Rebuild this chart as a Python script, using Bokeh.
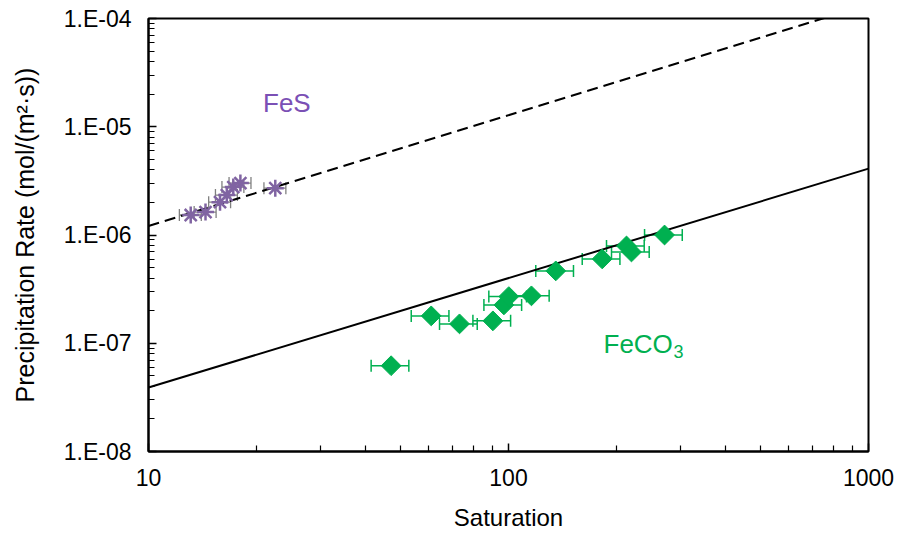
import numpy as np
from bokeh.plotting import figure
from bokeh.models import (ColumnDataSource, Whisker, TeeHead, FixedTicker,
                          CustomJSTickFormatter, Range1d)
from bokeh.core.properties import value
from bokeh.embed import file_html
from bokeh.resources import INLINE

# ---------------- data ----------------
fes_sat = [13.1, 14.4, 15.8, 16.5, 17.2, 18.0, 22.5]
fes_rate = [1.53e-6, 1.63e-6, 2.01e-6, 2.34e-6, 2.77e-6, 3.02e-6, 2.71e-6]
fes_err = 0.07

feco3_sat = [47.2, 61.0, 73.1, 90.5, 97.1, 100.2, 115.8, 135.3, 182.1, 212.7, 219.6, 271.3]
feco3_rate = [6.2e-8, 1.79e-7, 1.51e-7, 1.61e-7, 2.26e-7, 2.70e-7, 2.74e-7,
              4.66e-7, 6.01e-7, 7.92e-7, 6.97e-7, 1.0e-6]
feco3_err = 0.12

fit_sat = [10, 1000]
fes_fit = [1.21e-6, 1.35e-4]
feco3_fit = [3.9e-8, 4.1e-6]

x_ticks = [10, 100, 1000]
y_ticks = [1e-8, 1e-7, 1e-6, 1e-5, 1e-4]

FONT = "Liberation Sans"
PURPLE = "#8064A2"
PURPLE_TXT = "#7B50B5"
GREEN = "#00B050"

p = figure(width=899, height=533, x_axis_type="log", y_axis_type="log",
           x_range=Range1d(10, 1000), y_range=Range1d(1e-8, 1e-4),
           output_backend="svg", toolbar_location=None,
           min_border_left=148, min_border_right=31,
           min_border_top=18, min_border_bottom=81)
p.background_fill_color = "white"
p.border_fill_color = "white"
p.outline_line_color = "black"
p.outline_line_width = 2
p.grid.visible = False

x_minor = [m * d for d in [10, 100] for m in range(2, 10)]
y_minor = [m * d for d in [1e-8, 1e-7, 1e-6, 1e-5] for m in range(2, 10)]
p.xaxis.ticker = FixedTicker(ticks=x_ticks, minor_ticks=x_minor)
p.yaxis.ticker = FixedTicker(ticks=y_ticks, minor_ticks=y_minor)
p.xaxis.formatter = CustomJSTickFormatter(code="return String(Math.round(tick));")
p.yaxis.formatter = CustomJSTickFormatter(
    code="const e = Math.round(Math.log10(tick)); return '1.E-' + String(-e).padStart(2, '0');")

for ax in [p.xaxis[0], p.yaxis[0]]:
    ax.axis_line_color = "black"
    ax.axis_line_width = 2
    ax.major_tick_in = 8
    ax.major_tick_out = 0
    ax.minor_tick_in = 6
    ax.minor_tick_out = 0
    ax.major_tick_line_color = "black"
    ax.minor_tick_line_color = "black"
    ax.major_tick_line_width = 1.5
    ax.minor_tick_line_width = 1.2
    ax.major_label_text_font = FONT
    ax.major_label_text_font_size = "23px"
    ax.major_label_text_color = "black"
    ax.axis_label_text_font = FONT
    ax.axis_label_text_font_style = "normal"
    ax.axis_label_text_color = "black"

p.xaxis.axis_label_text_font_size = "24px"
p.yaxis.axis_label_text_font_size = "25px"
p.xaxis.axis_label = "Saturation"
p.yaxis.axis_label = "Precipitation Rate (mol/(m²·s))"
p.xaxis.major_label_standoff = 17
p.xaxis.axis_label_standoff = 15
p.yaxis.major_label_standoff = 17
p.yaxis.axis_label_standoff = 22

# fit lines
p.line(fit_sat, fes_fit, line_color="black", line_width=2, line_dash="11 6")
p.line(fit_sat, feco3_fit, line_color="black", line_width=2)

# error bars
fes_src = ColumnDataSource(dict(
    x=fes_sat, y=fes_rate,
    lo=[s * (1 - fes_err) for s in fes_sat],
    hi=[s * (1 + fes_err) for s in fes_sat]))
feco3_src = ColumnDataSource(dict(
    x=feco3_sat, y=feco3_rate,
    lo=[s * (1 - feco3_err) for s in feco3_sat],
    hi=[s * (1 + feco3_err) for s in feco3_sat]))

p.add_layout(Whisker(source=fes_src, base="y", lower="lo", upper="hi", dimension="width",
                     line_color="#808080", line_width=1.3,
                     upper_head=TeeHead(size=12, line_color="#808080", line_width=1.3),
                     lower_head=TeeHead(size=12, line_color="#808080", line_width=1.3)))
p.add_layout(Whisker(source=feco3_src, base="y", lower="lo", upper="hi", dimension="width",
                     line_color=GREEN, line_width=1.5,
                     upper_head=TeeHead(size=12, line_color=GREEN, line_width=1.5),
                     lower_head=TeeHead(size=12, line_color=GREEN, line_width=1.5)))

# markers
p.scatter("x", "y", source=fes_src, marker="asterisk", size=17,
          line_color=PURPLE, line_width=2.5)
p.scatter("x", "y", source=feco3_src, marker="square", angle=np.pi / 4, size=14,
          fill_color=GREEN, line_color=GREEN)

# labels
p.text(x=[20.8], y=[1.65e-5], text=["FeS"], text_font=value(FONT),
       text_font_size="26px", text_color=PURPLE_TXT,
       text_align="left", text_baseline="middle")
p.text(x=[183.6], y=[9.9e-8], text=["FeCO"], text_font=value(FONT),
       text_font_size="26px", text_color=GREEN,
       text_align="left", text_baseline="middle")
p.text(x=[183.6], y=[9.9e-8], text=["3"], text_font=value(FONT),
       text_font_size="18px", text_color=GREEN, x_offset=70, y_offset=8,
       text_align="left", text_baseline="middle")

open("out.html", "w").write(file_html(p, INLINE))
